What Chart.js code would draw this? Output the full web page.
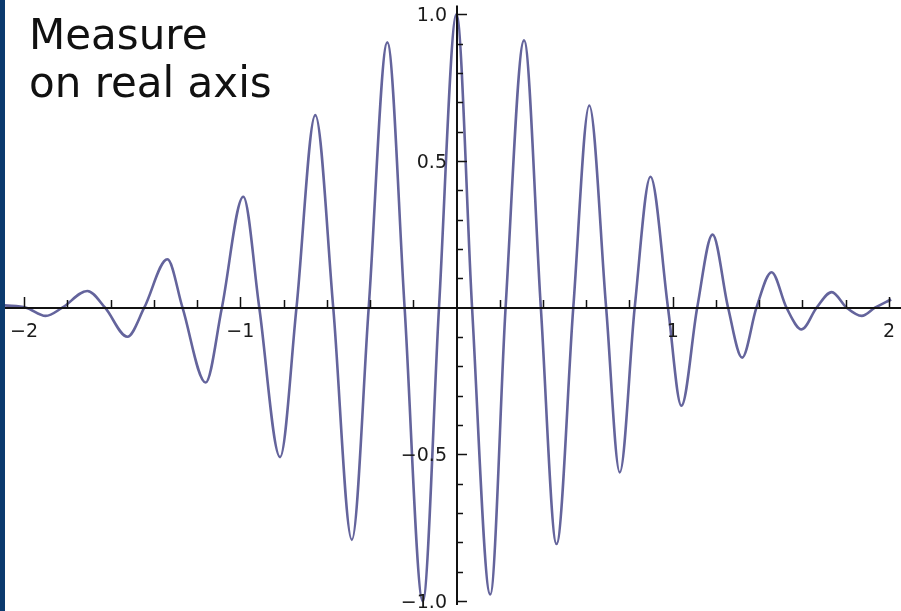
<!DOCTYPE html>
<html>
<head>
<meta charset="utf-8">
<title>Measure on real axis</title>
<script src="https://cdn.jsdelivr.net/npm/chart.js@4.4.1/dist/chart.umd.min.js"></script>
<style>
  html, body { margin: 0; padding: 0; background: #fff; }
  #wrap { position: relative; width: 901px; height: 611px; overflow: hidden; }
  #myChart { display: block; }
  #strip { position: absolute; left: 0; top: 0; width: 5px; height: 611px; background: #0b3a6e; }
  #note { position: absolute; left: 29px; top: 11px; font: 42px/48px "DejaVu Sans", sans-serif; color: #111; }
</style>
</head>
<body>
<div id="wrap">
  <canvas id="myChart" width="901" height="611"></canvas>
  <div id="strip"></div>
  <div id="note"></div>
</div>
<script>
// Extremos e cruzamentos de zero
const curveX = [
  -2.09, -1.99, -1.90, -1.823, -1.707, -1.625, -1.522, -1.444, -1.337, -1.267,
  -1.16, -1.085, -0.986, -0.912, -0.816, -0.740, -0.653, -0.570, -0.484, -0.406,
  -0.320, -0.240, -0.156, -0.081, 0, 0.072, 0.156, 0.227, 0.3125, 0.39,
  0.4625, 0.54, 0.614, 0.692, 0.755, 0.824, 0.897, 0.978, 1.040, 1.113,
  1.184, 1.256, 1.321, 1.387, 1.457, 1.526, 1.596, 1.665, 1.735, 1.804,
  1.874, 1.935, 2.01
];
const curveY = [
  0.008, 0, -0.028, 0, 0.057, 0, -0.099, 0, 0.165, 0,
  -0.255, 0, 0.378, 0, -0.509, 0, 0.656, 0, -0.791, 0,
  0.904, 0, -1.0, 0, 1.0, 0, -0.977, 0, 0.911, 0,
  -0.805, 0, 0.689, 0, -0.561, 0, 0.446, 0, -0.334, 0,
  0.249, 0, -0.170, 0, 0.121, 0, -0.074, 0, 0.053, 0,
  -0.028, 0, 0.028
];

// Rótulos dos eixos
const xTickValues = [-2, -1, 1, 2];
const xTickLabels = ['\u22122', '\u22121', '1', '2'];
const yTickValues = [1, 0.5, -0.5, -1];
const yTickLabels = ['1.0', '0.5', '\u22120.5', '\u22121.0'];
const noteLines = ['Measure', 'on real axis'];

document.getElementById('note').innerHTML = noteLines.join('<br>');

// Eixos cruzando na origem, desenhados com as escalas do Chart.js
const crossAxes = {
  id: 'crossAxes',
  afterDatasetsDraw(chart) {
    const { ctx, chartArea, scales: { x, y } } = chart;
    const x0 = Math.round(x.getPixelForValue(0));
    const y0 = Math.round(y.getPixelForValue(0));

    ctx.save();
    ctx.strokeStyle = '#111';
    ctx.lineWidth = 2;
    ctx.beginPath();
    ctx.moveTo(chartArea.left, y0);
    ctx.lineTo(chartArea.right, y0);
    ctx.moveTo(x0, y.getPixelForValue(1.03));
    ctx.lineTo(x0, y.getPixelForValue(-1.013));
    ctx.stroke();

    ctx.lineWidth = 1.5;
    ctx.beginPath();
    // marcas do eixo x a cada 0.2
    for (let i = -10; i <= 10; i++) {
      if (i === 0) continue;
      const px = Math.round(x.getPixelForValue(i / 5)) + 0.5;
      const len = i % 5 === 0 ? 11 : 8;
      ctx.moveTo(px, y0);
      ctx.lineTo(px, y0 - len);
    }
    // marcas do eixo y a cada 0.1
    for (let j = -10; j <= 10; j++) {
      if (j === 0) continue;
      const py = Math.round(y.getPixelForValue(j / 10)) + 0.5;
      const len = j % 5 === 0 ? 10 : 6;
      ctx.moveTo(x0, py);
      ctx.lineTo(x0 + len, py);
    }
    ctx.stroke();

    ctx.fillStyle = '#1a1a1a';
    ctx.font = '19px "DejaVu Sans", sans-serif';
    ctx.textBaseline = 'alphabetic';
    ctx.textAlign = 'center';
    xTickValues.forEach((v, i) => {
      ctx.fillText(xTickLabels[i], x.getPixelForValue(v), y0 + 29);
    });
    ctx.textAlign = 'right';
    yTickValues.forEach((v, i) => {
      ctx.fillText(yTickLabels[i], x0 - 10, y.getPixelForValue(v) + 7);
    });
    ctx.restore();
  }
};

const ctx = document.getElementById('myChart').getContext('2d');
const myChart = new Chart(ctx, {
  type: 'scatter',
  data: {
    datasets: [{
      data: curveX.map((v, i) => ({ x: v, y: curveY[i] })),
      showLine: true,
      borderColor: '#64649c',
      borderWidth: 2.6,
      pointRadius: 0,
      cubicInterpolationMode: 'monotone',
      fill: false
    }]
  },
  options: {
    responsive: false,
    animation: false,
    devicePixelRatio: 1,
    layout: { padding: 0 },
    scales: {
      x: { type: 'linear', min: -2.111, max: 2.0555, display: false },
      y: { type: 'linear', min: -1.0334, max: 1.0484, display: false }
    },
    plugins: {
      legend: { display: false },
      tooltip: { enabled: false }
    }
  },
  plugins: [crossAxes]
});
</script>
</body>
</html>
